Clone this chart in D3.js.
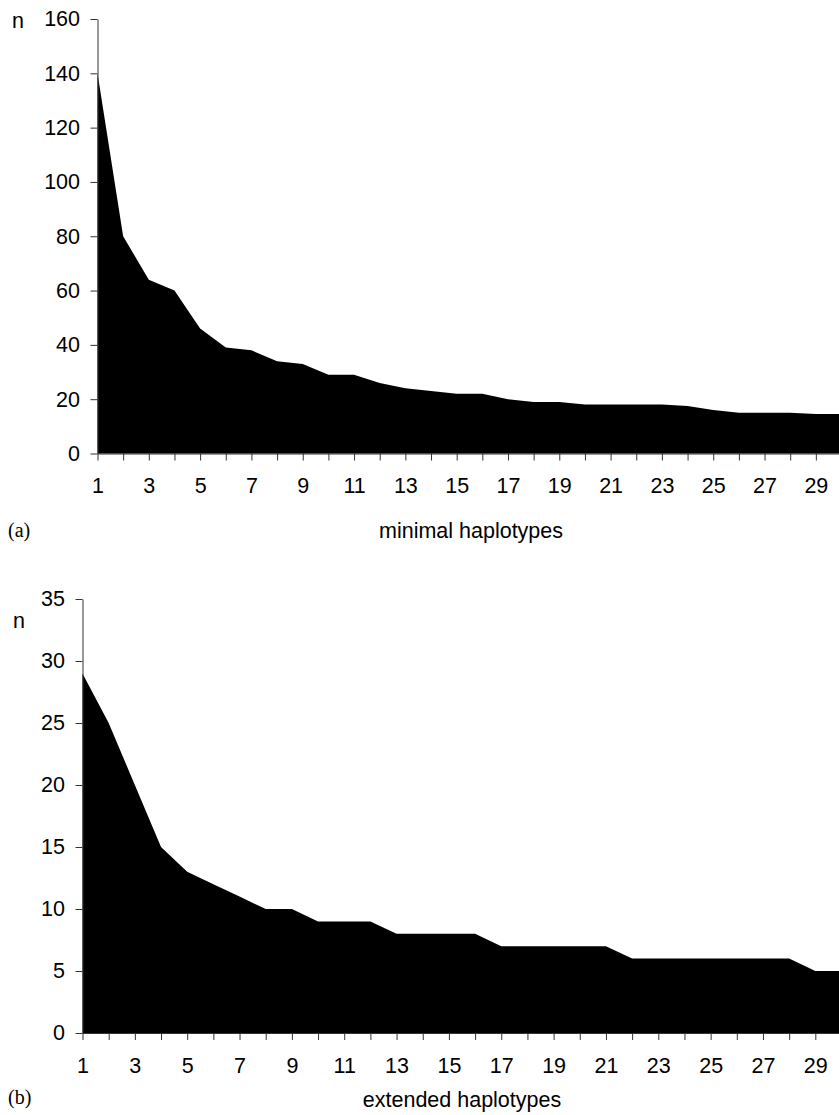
<!DOCTYPE html>
<html>
<head>
<meta charset="utf-8">
<script src="https://cdn.jsdelivr.net/npm/d3@7"></script>
<style>
  body { margin: 0; background: #fff; }
  svg { display: block; }
  .tick text { font-family: "Liberation Sans", Arial, sans-serif; font-size: 21.5px; fill: #000; }
  .domain, .tick line { stroke: #333; }
</style>
</head>
<body>
<div id="chart"></div>
<script>
// haplotype rank 1..30
const ranks = d3.range(1, 31);
// n for minimal haplotypes (a)
const minimalCounts = [140, 80, 64, 60, 46, 39, 38, 34, 33, 29, 29, 26, 24, 23, 22, 22, 20, 19, 19, 18,
  18, 18, 18, 17.5, 16, 15, 15, 15, 14.5, 14.5];
// n for extended haplotypes (b)
const extendedCounts = [29, 25, 20, 15, 13, 12, 11, 10, 10, 9, 9, 9, 8, 8, 8, 8, 7, 7, 7, 7,
  7, 6, 6, 6, 6, 6, 6, 6, 5, 5];
const minimalTicks = [0, 20, 40, 60, 80, 100, 120, 140, 160];
const extendedTicks = [0, 5, 10, 15, 20, 25, 30, 35];

const width = 839;
const height = 1115;

const svg = d3.select("#chart")
  .append("svg")
  .attr("width", width)
  .attr("height", height);

function drawPanel(cfg) {
  const x = d3.scaleLinear().domain([1, 30]).range([cfg.left, 841.5]);
  const y = d3.scaleLinear().domain([0, cfg.yMax]).range([cfg.bottom, cfg.top]);
  const data = ranks.map((r, i) => ({ rank: r, n: cfg.values[i] }));

  const g = svg.append("g");

  // x axis first so the area sits over its line
  g.append("g")
    .attr("transform", `translate(0,${cfg.bottom})`)
    .call(d3.axisBottom(x)
      .tickValues(ranks)
      .tickFormat((d) => (d % 2 === 1 ? d : ""))
      .tickSize(7)
      .tickSizeOuter(0)
      .tickPadding(17.5));

  const area = d3.area()
    .x((d) => x(d.rank))
    .y0(y(0))
    .y1((d) => y(d.n));

  g.append("path")
    .datum(data)
    .attr("fill", "#000")
    .attr("d", area);

  g.append("g")
    .attr("transform", `translate(${cfg.left},0)`)
    .call(d3.axisLeft(y)
      .tickValues(cfg.ticks)
      .tickSize(7)
      .tickSizeOuter(0)
      .tickPadding(10.5));

  g.append("text")
    .attr("x", cfg.nX)
    .attr("y", cfg.nY)
    .attr("font-family", "Liberation Sans, Arial, sans-serif")
    .attr("font-size", 21.5)
    .text("n");

  g.append("text")
    .attr("x", 8)
    .attr("y", cfg.letterY)
    .attr("font-family", "Liberation Serif, Times New Roman, serif")
    .attr("font-size", 20)
    .text(cfg.letter);

  g.append("text")
    .attr("x", cfg.titleX)
    .attr("y", cfg.titleY)
    .attr("text-anchor", "middle")
    .attr("font-family", "Liberation Sans, Arial, sans-serif")
    .attr("font-size", 21.5)
    .text(cfg.title);
}

drawPanel({
  values: minimalCounts, ticks: minimalTicks, yMax: 160,
  left: 97.5, top: 19, bottom: 453.5,
  nX: 12, nY: 28, letter: "(a)", letterY: 537,
  title: "minimal haplotypes", titleX: 471, titleY: 538
});

drawPanel({
  values: extendedCounts, ticks: extendedTicks, yMax: 35,
  left: 82.5, top: 599, bottom: 1033,
  nX: 13, nY: 628, letter: "(b)", letterY: 1104,
  title: "extended haplotypes", titleX: 462, titleY: 1107
});
</script>
</body>
</html>
